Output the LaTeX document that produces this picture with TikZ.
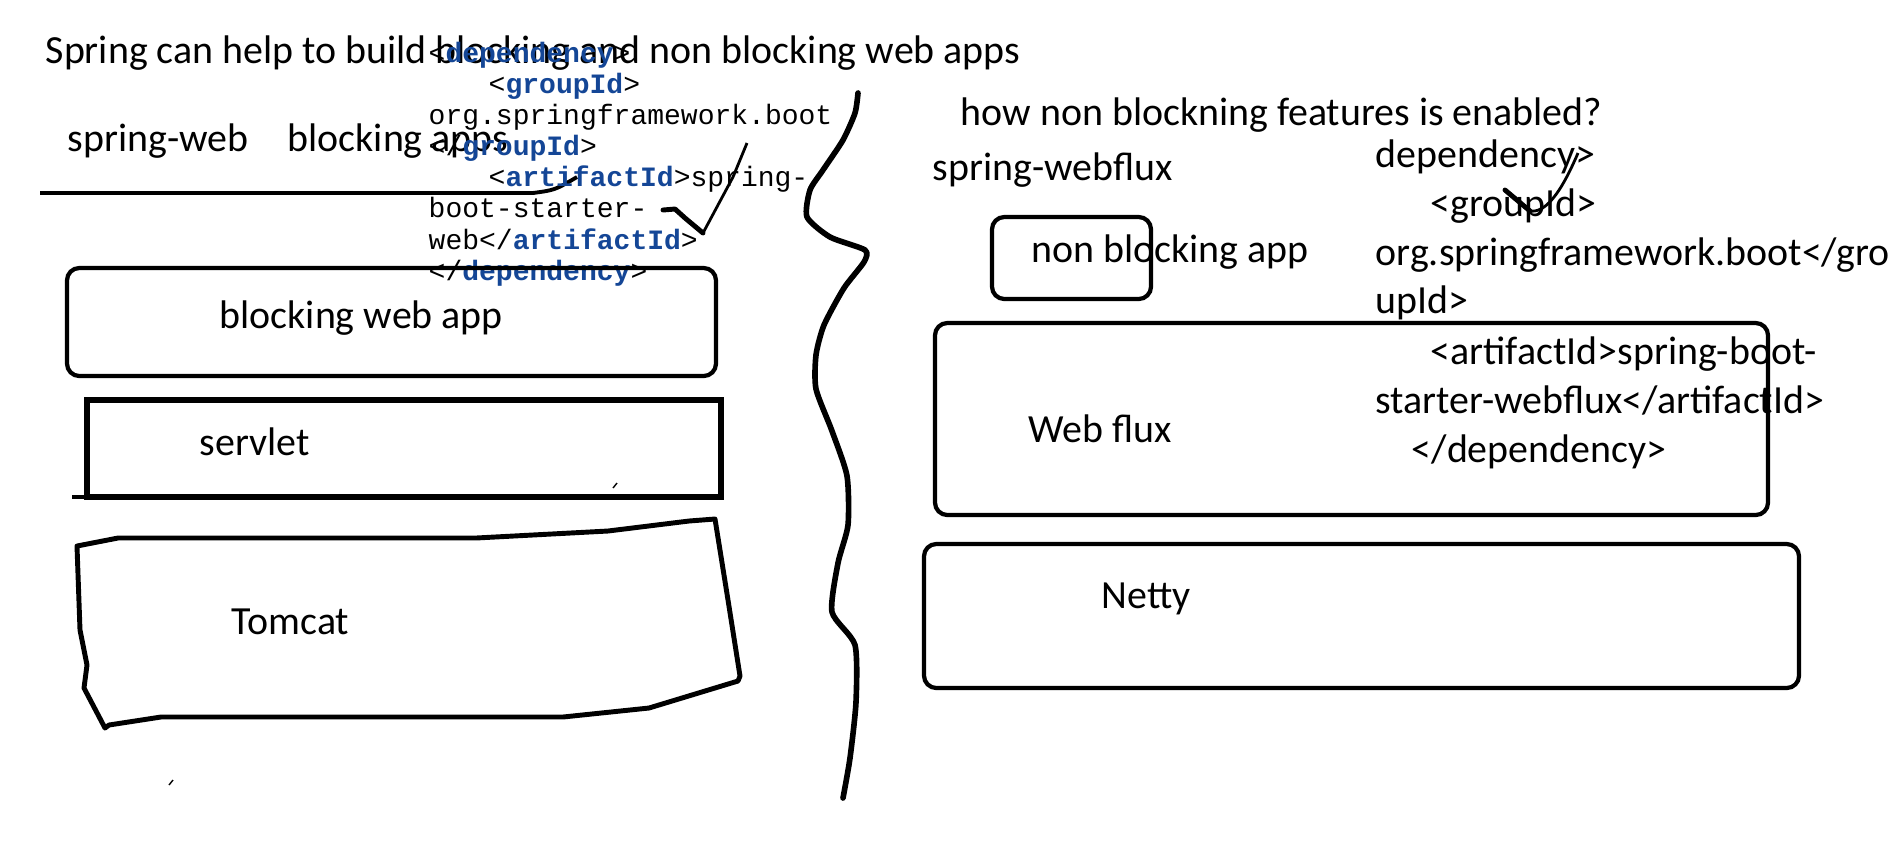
\documentclass[tikz,border=0pt]{standalone}
\usepackage{fontspec}
\setmainfont{Carlito}
\newfontfamily\codefont{Liberation Mono}
\usepackage{xcolor}
\usetikzlibrary{positioning}
\definecolor{tagblue}{RGB}{20,70,150}
\newcommand{\tagname}[1]{{\bfseries\color{tagblue}#1}}

\begin{document}
\begin{tikzpicture}[x=0.01cm,y=-0.01cm,
  txt/.style={anchor=base west,inner sep=0pt,font=\fontsize{11.35}{13.85}\selectfont},
  code/.style={anchor=base west,inner sep=0pt,align=left,font=\codefont\fontsize{7.97}{8.82}\selectfont},
  box/.style={line width=1.2pt,rounded corners=3.5pt},
  pen/.style={line width=1.4pt,line cap=round,line join=round}]

\fill[white] (0,0) rectangle (1891,844);
\useasboundingbox (0,0) rectangle (1891,844);

% left half
\node[txt] (title) at (45,63) {Spring can help to build blocking and non blocking web apps};
\node[txt] (springweb) at (67,151) {spring-web};
\node[txt] (blockingapps) at (287,151) {blocking apps};
\draw[line width=1.1pt] (40,193) -- (533,193) .. controls (555,190) .. (577,177);

% multi-line node: base is the last line
\node[code] (webdep) at (428,280) {<\tagname{dependency}>\\
\hspace*{0.6cm}<\tagname{groupId}>\\
org.springframework.boot\\
</\tagname{groupId}>\\
\hspace*{0.6cm}<\tagname{artifactId}>spring-\\
boot-starter-\\
web</\tagname{artifactId}>\\
</\tagname{dependency}>};

% tick over the code
\draw[pen] (663,210) -- (675,209) -- (685,218) -- (703,233);
\draw[line width=0.8pt] (703,233) -- (733,177) -- (747,143);

\draw[box] (67,268) rectangle (716,376);
\node[txt] (blockingapp) at (219,328) {blocking web app};

\draw[line width=1.6pt] (87,400) rectangle (721,497);
\draw[line width=1.2pt] (72,497) -- (87,497);
\node[txt] (servlet) at (199,455) {servlet};
\draw[line width=0.4pt] (613,488) -- (617,483);

\draw[pen] (77,546) -- (118,538) -- (476,538) -- (608,531) -- (689,521) -- (715,519)
  -- (728,600) -- (740,676) -- (738,681) -- (649,708) -- (563,717) -- (161,717)
  -- (109,725) -- (105,728) -- (84,688) -- (87,665) -- (80,630) -- cycle;
\node[txt] (tomcat) at (231,634) {Tomcat};
\draw[line width=0.4pt] (169,785) -- (173,780);

% divider
\draw[pen,line width=1.6pt] plot[smooth,tension=0.4] coordinates {(858,93) (855,113) (843,140)
  (823,170) (810,190) (807,217) (830,237) (865,250) (864,262) (844,288) (824,325) (816,355)
  (816,389) (832,431) (847,476) (848,525) (838,563) (832,612) (855,645) (856,702) (850,758)
  (843,798)};

% right half
\node[txt] (howtext) at (960,125) {how non blockning features is enabled?};
\node[txt] (webflux) at (932,180) {spring-webflux};

\node[txt,align=left] (fluxdep) at (1375,462) {dependency>\\
\hspace*{0.55cm}<groupId>\\
org.springframework.boot</gro\\
upId>\\[0.6pt]
\hspace*{0.55cm}<artifactId>spring-boot-\\
starter-webflux</artifactId>\\
\hspace*{0.36cm}</dependency>};
\draw[pen] (1505,190) -- (1530,211);
\draw[line width=0.8pt] (1530,211) .. controls (1545,213) and (1560,195) .. (1578,153);

\draw[box] (992,217) rectangle (1151,299);
\node[txt] (nonblocking) at (1031,262) {non blocking app};

\draw[box] (935,323) rectangle (1768,515);
\node[txt] (webfluxbox) at (1028,442) {Web flux};

\draw[box] (924,544) rectangle (1799,688);
\node[txt] (netty) at (1101,608) {Netty};

\end{tikzpicture}
\end{document}
